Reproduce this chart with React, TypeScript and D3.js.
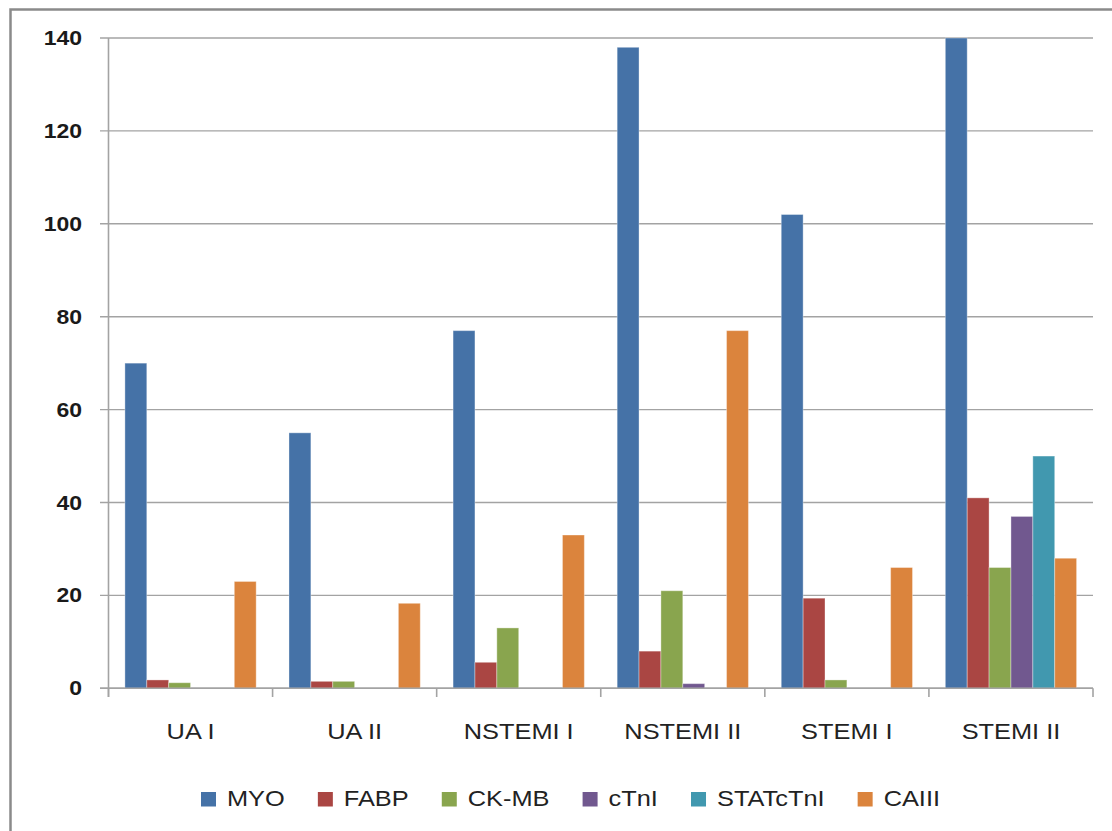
import React, { useEffect, useRef } from "react";
import * as d3 from "d3";

const categories = ["UA I", "UA II", "NSTEMI I", "NSTEMI II", "STEMI I", "STEMI II"];
const seriesNames = ["MYO", "FABP", "CK-MB", "cTnI", "STATcTnI", "CAIII"];
const seriesColors = ["#4572A7", "#AA4643", "#89A54E", "#71588F", "#4198AF", "#DB843D"];
const MYO = [70, 55, 77, 138, 102, 140];
const FABP = [1.8, 1.5, 5.6, 8, 19.4, 41];
const CKMB = [1.2, 1.5, 13, 21, 1.8, 26];
const cTnI = [0, 0, 0, 1, 0, 37];
const STATcTnI = [0, 0, 0, 0, 0, 50];
const CAIII = [23, 18.3, 33, 77, 26, 28];
const yTicks = [0, 20, 40, 60, 80, 100, 120, 140];

const seriesValues = [MYO, FABP, CKMB, cTnI, STATcTnI, CAIII];

const W = 1112;
const H = 831;
const SX = 1.18;
const FONT = "'Liberation Sans', Arial, sans-serif";

export default function App() {
  const ref = useRef<SVGSVGElement | null>(null);

  useEffect(() => {
    const svg = d3.select(ref.current);
    svg.selectAll("*").remove();

    svg.append("rect").attr("x", 0).attr("y", 0).attr("width", W).attr("height", H).attr("fill", "#fff");
    // outer chart border (extends beyond the view on right/bottom)
    svg
      .append("rect")
      .attr("x", 10.5)
      .attr("y", 9.5)
      .attr("width", 1300)
      .attr("height", 1000)
      .attr("fill", "none")
      .attr("stroke", "#8a8a8a")
      .attr("stroke-width", 2.5);

    const x0 = d3.scaleBand<string>().domain(categories).range([108.5, 1093]).paddingInner(0).paddingOuter(0);
    const x1 = d3
      .scaleBand<string>()
      .domain(seriesNames)
      .range([0, x0.bandwidth()])
      .paddingInner(0)
      .paddingOuter(0.75);
    const y = d3.scaleLinear().domain([0, 140]).range([688.3, 38]);

    // gridlines + y ticks
    const grid = svg.append("g");
    yTicks.forEach((t) => {
      grid
        .append("line")
        .attr("x1", 100)
        .attr("x2", 1093)
        .attr("y1", y(t))
        .attr("y2", y(t))
        .attr("stroke", "#a3a3a3")
        .attr("stroke-width", 1.4);
      grid
        .append("text")
        .attr("transform", `translate(82,${y(t) + 7}) scale(${SX},1)`)
        .attr("text-anchor", "end")
        .attr("font-family", FONT)
        .attr("font-size", 19.5)
        .attr("font-weight", "bold")
        .attr("fill", "#1a1a1a")
        .text(String(t));
    });

    // bars
    const bars = svg.append("g");
    categories.forEach((c, ci) => {
      seriesNames.forEach((s, si) => {
        const v = seriesValues[si][ci];
        if (!v) return;
        const bx = (x0(c) as number) + (x1(s) as number);
        bars
          .append("rect")
          .attr("x", bx)
          .attr("y", y(v))
          .attr("width", x1.bandwidth())
          .attr("height", y(0) - y(v))
          .attr("fill", seriesColors[si])
          .attr("stroke", "rgba(255,255,255,0.35)")
          .attr("stroke-width", 1);
      });
    });

    // axes lines
    svg
      .append("line")
      .attr("x1", 108.5)
      .attr("x2", 108.5)
      .attr("y1", 38)
      .attr("y2", 697)
      .attr("stroke", "#a3a3a3")
      .attr("stroke-width", 1.6);
    svg
      .append("line")
      .attr("x1", 100)
      .attr("x2", 1093)
      .attr("y1", y(0))
      .attr("y2", y(0))
      .attr("stroke", "#a3a3a3")
      .attr("stroke-width", 1.6);
    const bounds = categories.map((c) => x0(c) as number).concat([1093]);
    bounds.forEach((bx) => {
      svg
        .append("line")
        .attr("x1", bx)
        .attr("x2", bx)
        .attr("y1", y(0))
        .attr("y2", 697)
        .attr("stroke", "#a3a3a3")
        .attr("stroke-width", 1.6);
    });

    // x labels
    categories.forEach((c) => {
      svg
        .append("text")
        .attr("transform", `translate(${(x0(c) as number) + x0.bandwidth() / 2},738.5) scale(${SX},1)`)
        .attr("text-anchor", "middle")
        .attr("font-family", FONT)
        .attr("font-size", 21.5)
        .attr("fill", "#222")
        .text(c);
    });

    // legend
    const lg = svg.append("g");
    const items: { g: any; w: number }[] = [];
    seriesNames.forEach((s, i) => {
      const g = lg.append("g");
      g.append("rect").attr("x", 0).attr("y", 792).attr("width", 15).attr("height", 14.5).attr("fill", seriesColors[i]);
      const t = g
        .append("text")
        .attr("transform", `translate(26,806) scale(${SX},1)`)
        .attr("font-family", FONT)
        .attr("font-size", 21.5)
        .attr("fill", "#222")
        .text(s);
      const tw = (t.node() as SVGTextElement).getComputedTextLength() * SX;
      items.push({ g, w: 26 + tw });
    });
    const start = 201;
    const end = 940;
    const sum = items.reduce((a, b) => a + b.w, 0);
    const gap = (end - start - sum) / (items.length - 1);
    let cx = start;
    items.forEach((it) => {
      it.g.attr("transform", `translate(${cx},0)`);
      cx += it.w + gap;
    });
  }, []);

  return (
    <svg
      ref={ref}
      width={W}
      height={H}
      style={{ position: "absolute", left: 0, top: 0, display: "block" }}
    />
  );
}
